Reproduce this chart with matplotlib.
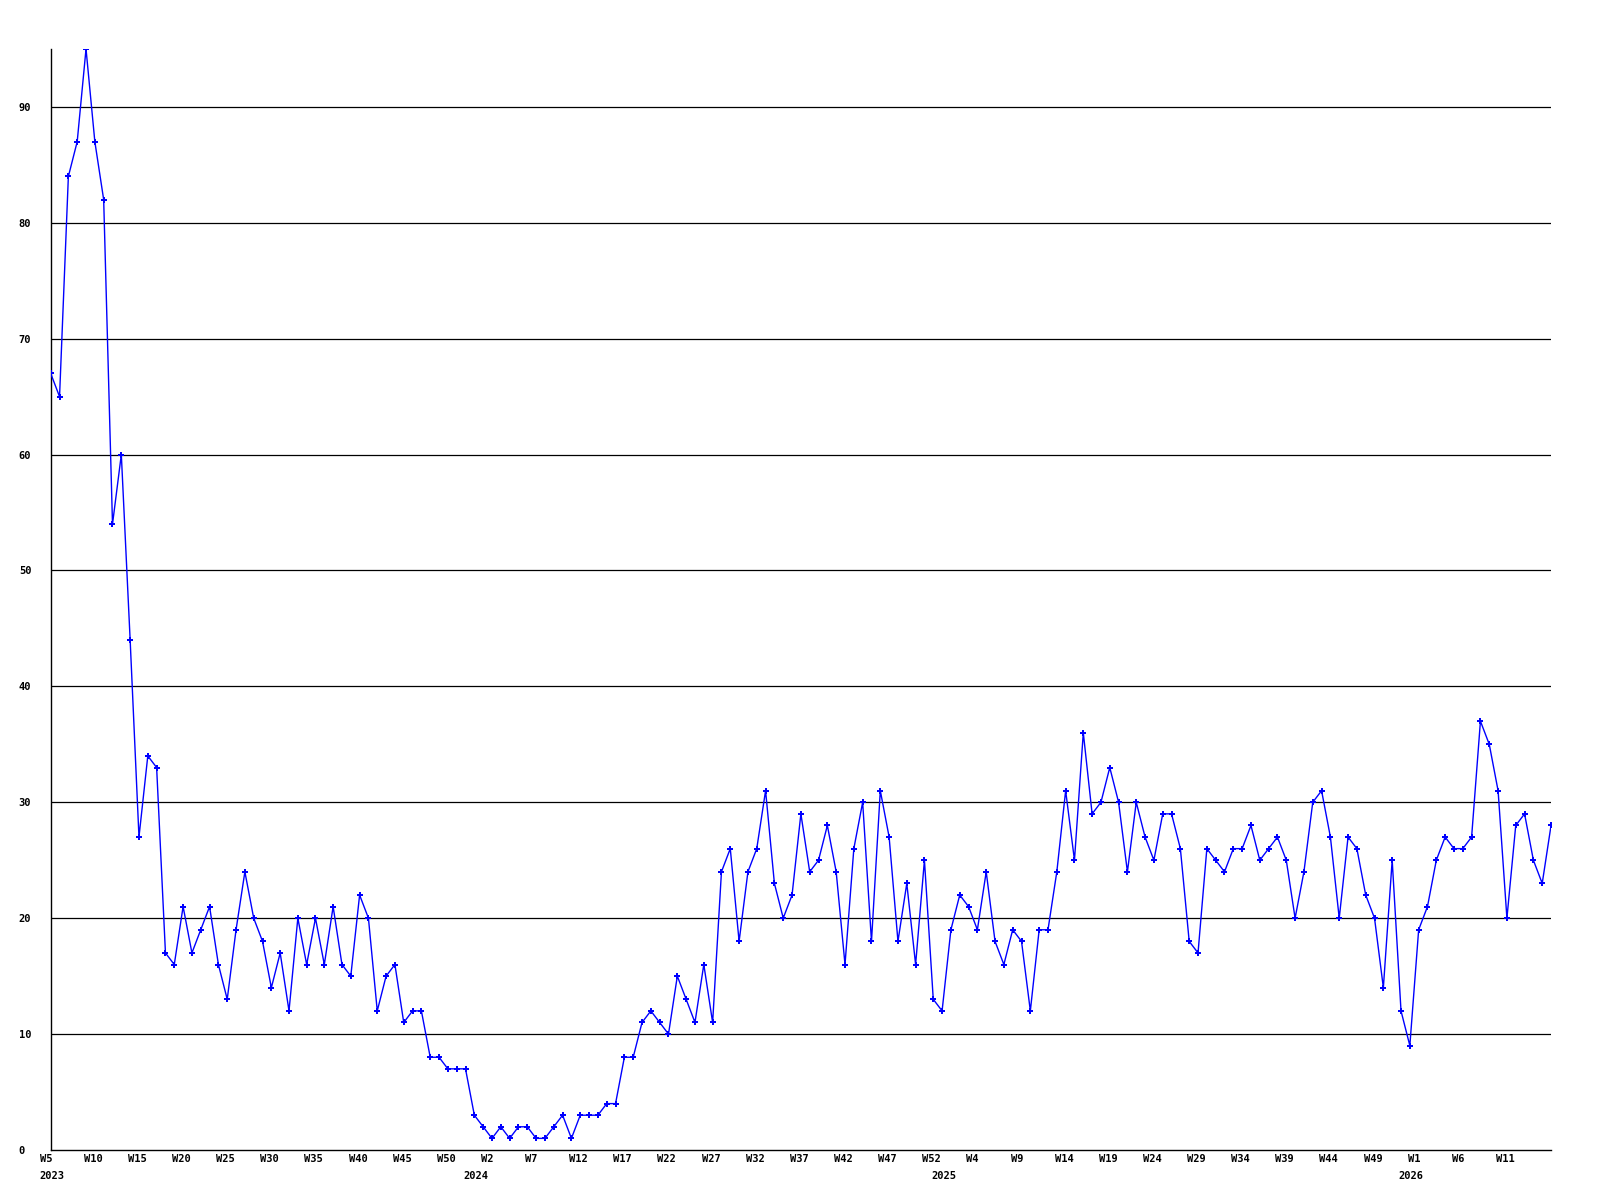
import matplotlib
matplotlib.use("Agg")
import matplotlib.pyplot as plt
from matplotlib.transforms import ScaledTranslation

# weekly values, 2023 W5 .. 2026 W16
values = [67, 65, 84, 87, 95, 87, 82, 54, 60, 44,
          27, 34, 33, 17, 16, 21, 17, 19, 21, 16,
          13, 19, 24, 20, 18, 14, 17, 12, 20, 16,
          20, 16, 21, 16, 15, 22, 20, 12, 15, 16,
          11, 12, 12, 8, 8, 7, 7, 7, 3, 2,
          1, 2, 1, 2, 2, 1, 1, 2, 3, 1,
          3, 3, 3, 4, 4, 8, 8, 11, 12, 11,
          10, 15, 13, 11, 16, 11, 24, 26, 18, 24,
          26, 31, 23, 20, 22, 29, 24, 25, 28, 24,
          16, 26, 30, 18, 31, 27, 18, 23, 16, 25,
          13, 12, 19, 22, 21, 19, 24, 18, 16, 19,
          18, 12, 19, 19, 24, 31, 25, 36, 29, 30,
          33, 30, 24, 30, 27, 25, 29, 29, 26, 18,
          17, 26, 25, 24, 26, 26, 28, 25, 26, 27,
          25, 20, 24, 30, 31, 27, 20, 27, 26, 22,
          20, 14, 25, 12, 9, 19, 21, 25, 27, 26,
          26, 27, 37, 35, 31, 20, 28, 29, 25, 23,
          28]

# week numbering of each year segment
years = [2023, 2024, 2025, 2026]
first_week = [5, 0, 0, 0]
last_week = [52, 52, 52, 16]

weeks = []
year_start = []
for y, a, b in zip(years, first_week, last_week):
    year_start.append(len(weeks))
    weeks += list(range(a, b + 1))

x = list(range(len(values)))
# every 5th week, last point has no label
tick_pos = x[:-1:5]
tick_lab = ["W%d" % weeks[i] for i in tick_pos]

fig = plt.figure(figsize=(16, 12), dpi=100)
ax = fig.add_axes([0.0317, 0.0417, 0.9377, 0.9175])

ax.plot(x, values, color="#0000ff", lw=1.0, marker="P", ms=5,
        markeredgewidth=0, zorder=3)

ax.set_xlim(0, len(values) - 1)
ax.set_ylim(0, 95)
ax.set_yticks(range(0, 91, 10))
for v in range(10, 91, 10):
    ax.axhline(v, color="black", lw=0.9, zorder=1)

for s in ["top", "right"]:
    ax.spines[s].set_visible(False)
ax.spines["left"].set_linewidth(1.0)
ax.spines["bottom"].set_linewidth(1.0)

font = dict(family="DejaVu Sans Mono", weight="bold", size=7.5)

ax.xaxis.remove_overlapping_locs = False
ax.set_xticks(tick_pos)
ax.set_xticklabels(tick_lab, **font)
ax.set_xticks(year_start, minor=True)
ax.set_xticklabels([str(y) for y in years], minor=True, **font)
ax.tick_params(axis="x", which="major", length=0, pad=3)
ax.tick_params(axis="x", which="minor", length=0, pad=15)

ax.set_yticklabels([str(v) for v in range(0, 91, 10)], **font)
ax.tick_params(axis="y", length=0, pad=23)

offset = ScaledTranslation(-11 / 100, 0, fig.dpi_scale_trans)
for lab in ax.get_xticklabels() + ax.get_xticklabels(minor=True):
    lab.set_horizontalalignment("left")
    lab.set_transform(lab.get_transform() + offset)
for lab in ax.get_yticklabels():
    lab.set_horizontalalignment("left")

fig.savefig("out.png", dpi=100)
